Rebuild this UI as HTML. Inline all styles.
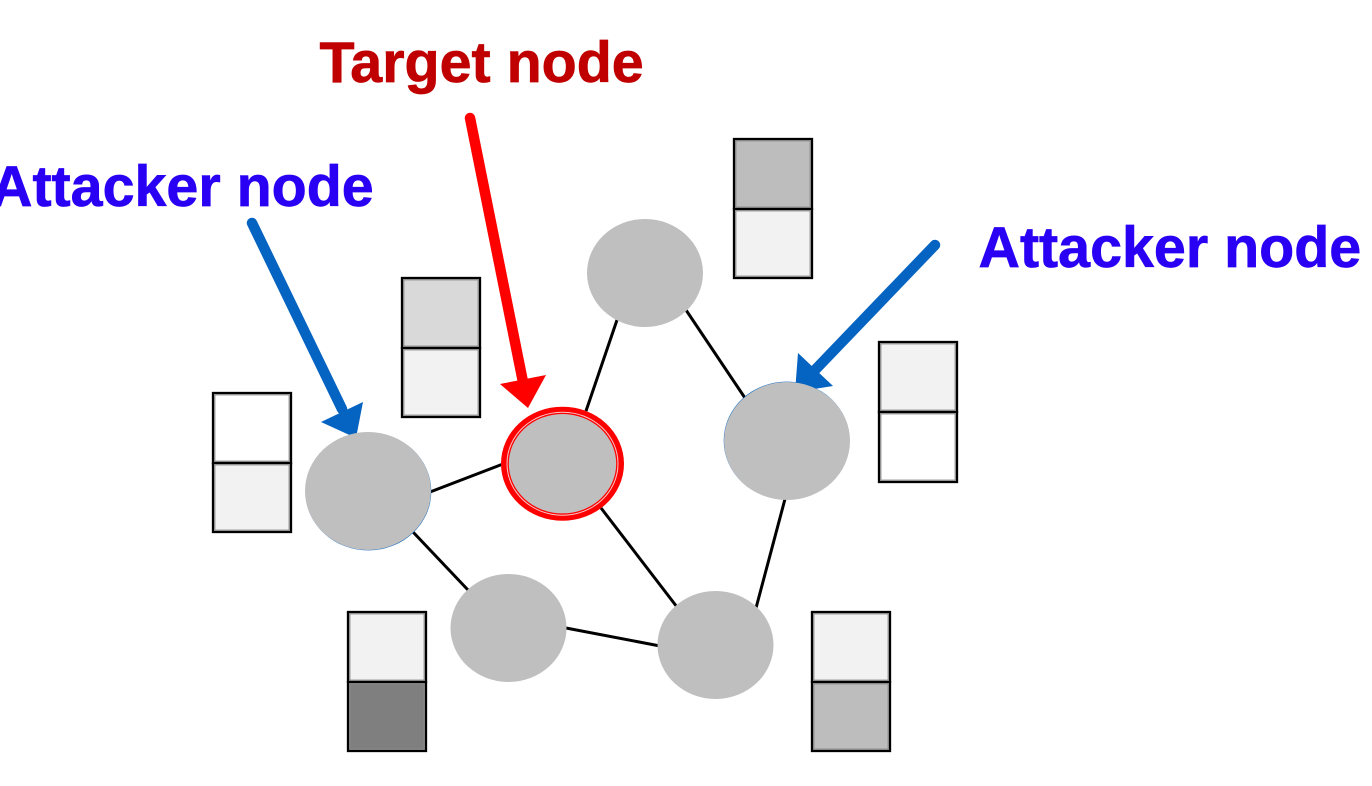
<!DOCTYPE html>
<html>
<head>
<meta charset="utf-8">
<style>
html,body{margin:0;padding:0;background:#fff;width:1372px;height:786px;overflow:hidden}
svg{display:block}
text{font-family:"Liberation Sans",sans-serif;font-weight:bold;stroke-width:.7}
</style>
</head>
<body>
<svg width="1372" height="786" viewBox="0 0 1372 786" xmlns="http://www.w3.org/2000/svg">
<g stroke="#000" stroke-width="3" fill="none">
<line x1="430" y1="492" x2="503" y2="464"/>
<line x1="413" y1="532" x2="468" y2="590"/>
<line x1="566" y1="628" x2="660" y2="646"/>
<line x1="601" y1="508" x2="677" y2="607"/>
<line x1="586" y1="411" x2="617" y2="320"/>
<line x1="686" y1="310" x2="745" y2="398"/>
<line x1="785" y1="499" x2="756" y2="608"/>
</g>
<line x1="470" y1="118" x2="523" y2="382" stroke="#f00" stroke-width="10.500" stroke-linecap="round"/>
<polygon points="500,384 546,375 528,408" fill="#f00"/>
<line x1="252" y1="223" x2="342" y2="409" stroke="#0563c1" stroke-width="10.500" stroke-linecap="round"/>
<polygon points="321,422 363,402 356,438" fill="#0563c1"/>
<line x1="935" y1="245" x2="815" y2="370" stroke="#0563c1" stroke-width="10.500" stroke-linecap="round"/>
<polygon points="798,353 833,386 795,392" fill="#0563c1"/>
<ellipse cx="786.700" cy="440.600" rx="63" ry="59" fill="#0563c1"/>
<ellipse cx="368.300" cy="491.400" rx="63" ry="59" fill="#0563c1"/>
<g fill="#bfbfbf">
<ellipse cx="645" cy="273" rx="58" ry="54"/>
<ellipse cx="787" cy="441" rx="63" ry="59"/>
<ellipse cx="368" cy="491" rx="63" ry="59"/>
<ellipse cx="508.500" cy="628" rx="58" ry="54"/>
<ellipse cx="715.500" cy="645" rx="58" ry="54"/>
</g>
<ellipse cx="562.500" cy="463.700" rx="61.500" ry="57" fill="#f00"/>
<ellipse cx="562.500" cy="463.700" rx="56" ry="52" fill="#f8c8c8"/>
<ellipse cx="562.500" cy="463.700" rx="55" ry="51" fill="#f00"/>
<ellipse cx="562.500" cy="463.700" rx="53.700" ry="49.700" fill="#bfbfbf"/>
<g stroke="#000" stroke-width="2.300">
<rect x="734" y="139" width="78" height="70" fill="#bdbdbd"/>
<rect x="734" y="209" width="78" height="69" fill="#f2f2f2"/>
<rect x="402" y="278" width="78" height="70" fill="#d9d9d9"/>
<rect x="402" y="348" width="78" height="69" fill="#f2f2f2"/>
<rect x="879" y="342" width="78" height="70" fill="#f2f2f2"/>
<rect x="879" y="412" width="78" height="70" fill="#fff"/>
<rect x="213" y="393" width="78" height="70" fill="#fff"/>
<rect x="213" y="463" width="78" height="69" fill="#f2f2f2"/>
<rect x="348" y="612" width="78" height="70" fill="#f2f2f2"/>
<rect x="348" y="682" width="78" height="69" fill="#7f7f7f"/>
<rect x="812" y="612" width="78" height="70" fill="#f2f2f2"/>
<rect x="812" y="682" width="78" height="69" fill="#bdbdbd"/>
</g>
<g stroke="#8a8a8a" stroke-width="1.200" fill="none">
<rect x="735.800" y="140.800" width="74.400" height="66.400"/>
<rect x="735.800" y="210.800" width="74.400" height="65.400"/>
<rect x="403.800" y="279.800" width="74.400" height="66.400"/>
<rect x="403.800" y="349.800" width="74.400" height="65.400"/>
<rect x="880.800" y="343.800" width="74.400" height="66.400"/>
<rect x="880.800" y="413.800" width="74.400" height="66.400"/>
<rect x="214.800" y="394.800" width="74.400" height="66.400"/>
<rect x="214.800" y="464.800" width="74.400" height="65.400"/>
<rect x="349.800" y="613.800" width="74.400" height="66.400"/>
<rect x="349.800" y="683.800" width="74.400" height="65.400"/>
<rect x="813.800" y="613.800" width="74.400" height="66.400"/>
<rect x="813.800" y="683.800" width="74.400" height="65.400"/>
</g>
<text x="319.500" y="82" font-size="57.400" fill="#c00000" stroke="#c00000">Target node</text>
<text x="-9" y="206" font-size="57.400" fill="#2a00f5" stroke="#2a00f5">Attacker node</text>
<text x="978.500" y="267" font-size="57.400" fill="#2a00f5" stroke="#2a00f5">Attacker node</text>
</svg>
</body>
</html>
